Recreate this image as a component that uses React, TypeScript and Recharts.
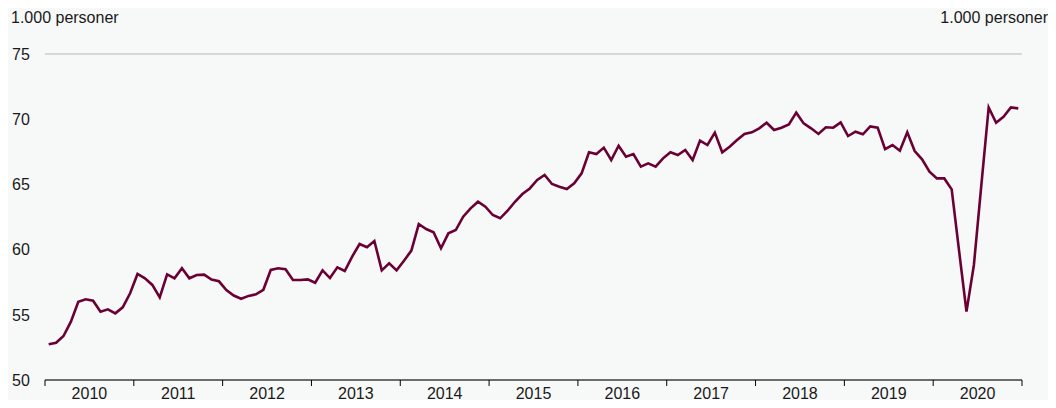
import { LineChart, Line, XAxis, YAxis, CartesianGrid } from "recharts";

const years = [2010, 2011, 2012, 2013, 2014, 2015, 2016, 2017, 2018, 2019, 2020];

// beskæftigede, 1.000 personer, månedlig
const values = [
  52.74, 52.86, 53.37, 54.47, 56.0, 56.19, 56.08, 55.24, 55.42, 55.11, 55.57, 56.65,
  58.13, 57.8, 57.29, 56.34, 58.1, 57.8, 58.57, 57.8, 58.05, 58.08, 57.7, 57.57,
  56.9, 56.48, 56.23, 56.45, 56.57, 56.92, 58.44, 58.57, 58.49, 57.67, 57.67, 57.72,
  57.46, 58.41, 57.82, 58.64, 58.36, 59.46, 60.43, 60.18, 60.66, 58.41, 58.95, 58.41,
  59.15, 59.92, 61.96, 61.58, 61.33, 60.1, 61.25, 61.5, 62.52, 63.16, 63.67, 63.29,
  62.65, 62.4, 62.98, 63.67, 64.26, 64.69, 65.34, 65.72, 65.03, 64.82, 64.65, 65.08,
  65.85, 67.46, 67.33, 67.82, 66.87, 67.97, 67.13, 67.33, 66.36, 66.61, 66.36, 67.0,
  67.46, 67.25, 67.64, 66.87, 68.36, 68.02, 68.97, 67.46, 67.89, 68.4, 68.87, 68.99,
  69.3, 69.73, 69.17, 69.35, 69.6, 70.5, 69.68, 69.3, 68.87, 69.38, 69.35, 69.76,
  68.71, 69.04, 68.84, 69.45, 69.35, 67.71, 68.02, 67.58, 68.99, 67.56, 66.92, 65.97,
  65.46, 65.46, 64.62, 59.9, 55.24, 58.82, 64.9, 70.9, 69.73, 70.19, 70.9, 70.83,
];

const yTicks = [50, 55, 60, 65, 70, 75];
const unitLabel = "1.000 personer";

const W = 1056;
const H = 408;
const LEFT = 45;
const RIGHT = 34;
const FS = 16;
const FONT = "'Liberation Sans', Arial, sans-serif";

const data = values.map((v, i) => ({ x: i + 0.5, v }));
const yearTicks = years.map((_, i) => i * 12).concat(years.length * 12);
const halfYear = (W - LEFT - RIGHT) / years.length / 2;

const YearTick = (props: any) => {
  const { x, y, index } = props;
  if (index >= years.length) return null;
  return (
    <text x={x + halfYear} y={y + 11} textAnchor="middle" fontSize={FS} fill="#1a1a1a" fontFamily={FONT}>
      {years[index]}
    </text>
  );
};

const LeftTick = (props: any) => {
  const { y, payload } = props;
  return (
    <text x={12} y={y} dy="0.36em" textAnchor="start" fontSize={FS} fill="#1a1a1a" fontFamily={FONT}>
      {payload.value}
    </text>
  );
};

const RightTick = (props: any) => {
  const { y, payload } = props;
  return (
    <text x={1035} y={y} dy="0.36em" textAnchor="start" fontSize={FS} fill="#1a1a1a" fontFamily={FONT}>
      {payload.value}
    </text>
  );
};

export default function App() {
  return (
    <div style={{ margin: -8, width: W, height: H, background: "#f7f8f8", position: "relative", fontFamily: FONT }}>
      <div style={{ position: "absolute", left: 11, top: 9, fontSize: FS, color: "#1a1a1a" }}>{unitLabel}</div>
      <div style={{ position: "absolute", right: 8, top: 9, fontSize: FS, color: "#1a1a1a" }}>{unitLabel}</div>
      <LineChart width={W} height={H} data={data} margin={{ top: 54, right: 0, bottom: 0, left: 0 }}>
        <CartesianGrid horizontal vertical={false} stroke="#b8b8b8" strokeWidth={1.2} />
        <XAxis
          dataKey="x"
          type="number"
          domain={[0, years.length * 12]}
          ticks={yearTicks}
          interval={0}
          height={28}
          tickSize={6}
          tickLine={{ stroke: "#000" }}
          axisLine={{ stroke: "#000" }}
          tick={<YearTick />}
        />
        <YAxis
          yAxisId="l"
          orientation="left"
          width={LEFT}
          domain={[50, 75]}
          ticks={yTicks}
          axisLine={false}
          tickLine={false}
          tick={<LeftTick />}
        />
        <YAxis
          yAxisId="r"
          orientation="right"
          width={RIGHT}
          domain={[50, 75]}
          ticks={yTicks}
          axisLine={false}
          tickLine={false}
          tick={<RightTick />}
        />
        <Line
          yAxisId="l"
          dataKey="v"
          type="linear"
          stroke="#6a0034"
          strokeWidth={2.6}
          dot={false}
          isAnimationActive={false}
        />
      </LineChart>
    </div>
  );
}
